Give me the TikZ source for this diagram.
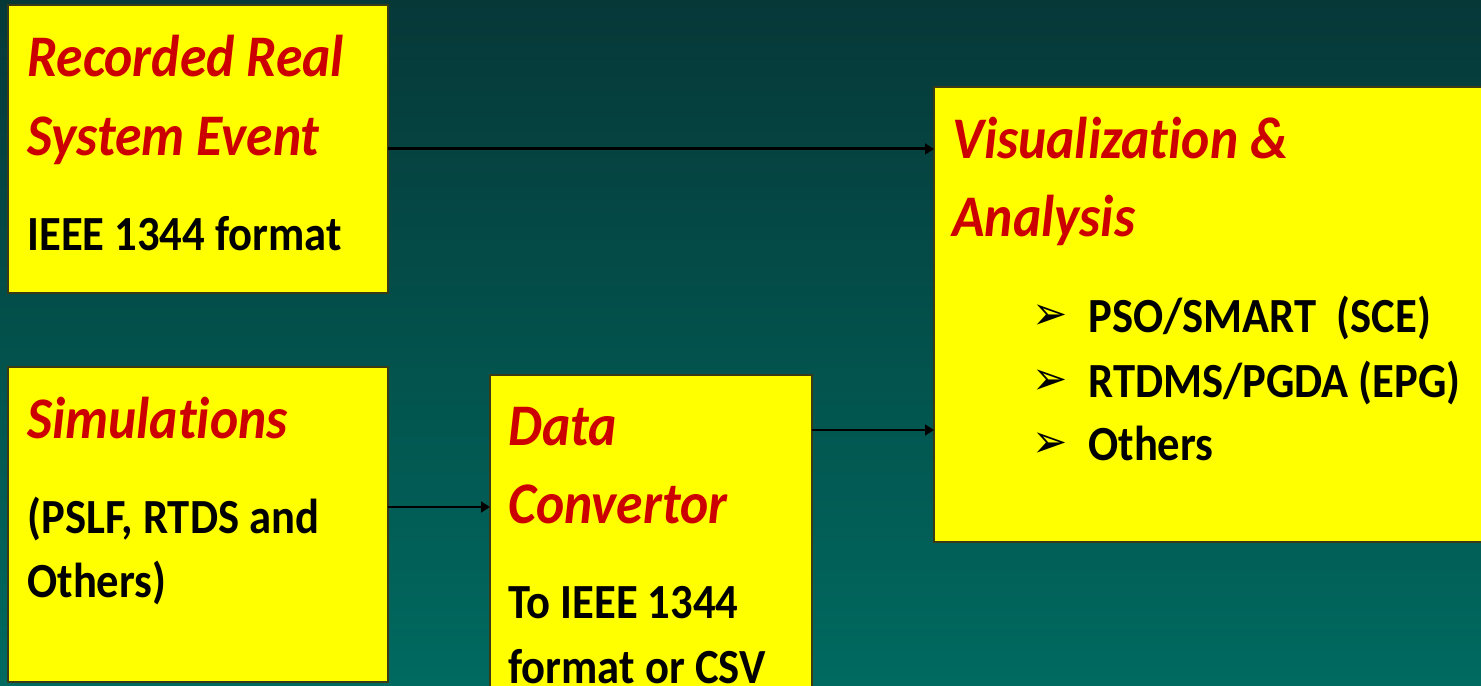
\documentclass[tikz,border=0pt]{standalone}
\usepackage{fontspec}
\setmainfont{Carlito}[Ligatures={NoCommon}]
\newfontfamily\dv{DejaVu Sans}
\usetikzlibrary{arrows.meta,calc}
\definecolor{bgtop}{HTML}{063838}
\definecolor{bgbot}{HTML}{006A60}
\definecolor{boxfill}{HTML}{FFFF00}
\definecolor{boxline}{HTML}{3A3A14}
\definecolor{ttl}{HTML}{CC0000}
\newcommand\tall[1]{\scalebox{1}[1.1]{#1}}
\tikzset{
  box/.style={draw=boxline, line width=1.6pt, fill=boxfill, anchor=north west, inner sep=0pt, outer sep=0pt},
  ttlt/.style={font=\fontsize{30.5}{31}\selectfont\bfseries\itshape, text=ttl, anchor=base west, inner sep=0pt},
  bodyt/.style={font=\fontsize{25.4}{26}\selectfont\bfseries, text=black, anchor=base west, inner sep=0pt},
  bult/.style={font=\dv\fontsize{24}{25}\selectfont, text=black, anchor=base west, inner sep=0pt},
  conn/.style={draw=black, line width=1.7pt, -{Triangle[length=5pt,width=6pt]}}
}
\begin{document}
\begin{tikzpicture}[x=0.02cm,y=-0.02cm]
\useasboundingbox (0,0) rectangle (1481,686);
\clip (0,0) rectangle (1481,686);
\shade[top color=bgtop, bottom color=bgbot] (0,0) rectangle (1481,686);

\node[box, minimum width=7.6cm, minimum height=5.76cm] (A) at (8,5) {};
\node[box, minimum width=7.6cm, minimum height=6.3cm] (B) at (8,367) {};
\node[box, minimum width=6.44cm, minimum height=6.6cm] (C) at (490,375) {};
\node[box, minimum width=11.4cm, minimum height=9.1cm] (D) at (934,87) {};

\node[ttlt] (a1) at (27,77) {\tall{Recorded Real}};
\node[ttlt] (a2) at (27,155) {\tall{System Event}};
\node[bodyt] (a3) at (27,250) {\tall{IEEE 1344 format}};

\node[ttlt] (b1) at (27,438) {\tall{Simulations}};
\node[bodyt] (b2) at (27,533) {\tall{(PSLF, RTDS and}};
\node[bodyt] (b3) at (27,597) {\tall{Others)}};

\node[ttlt] (c1) at (508,445) {\tall{Data}};
\node[ttlt] (c2) at (508,523) {\tall{Convertor}};
\node[bodyt] (c3) at (508,618) {\tall{To IEEE 1344}};
\node[bodyt] (c4) at (508,683) {\tall{format or CSV}};

\node[ttlt] (d1) at (952,158) {\tall{Visualization \&}};
\node[ttlt] (d2) at (952,236) {\tall{Analysis}};
\node[bult] (e1) at (1032,329) {\tall{➢}};
\node[bodyt] (f1) at (1088,332) {\tall{PSO/SMART\ \ (SCE)}};
\node[bult] (e2) at (1032,394) {\tall{➢}};
\node[bodyt] (f2) at (1088,397) {\tall{RTDMS/PGDA (EPG)}};
\node[bult] (e3) at (1032,457) {\tall{➢}};
\node[bodyt] (f3) at (1088,460) {\tall{Others}};

\coordinate (bo) at ($(B.north east)+(0,140)$);
\coordinate (co) at ($(C.north east)+(0,55)$);
\draw[conn] (A.east) -- (A.east -| D.west);
\draw[conn] (bo) -- (bo -| C.west);
\draw[conn] (co) -- (co -| D.west);
\end{tikzpicture}
\end{document}
